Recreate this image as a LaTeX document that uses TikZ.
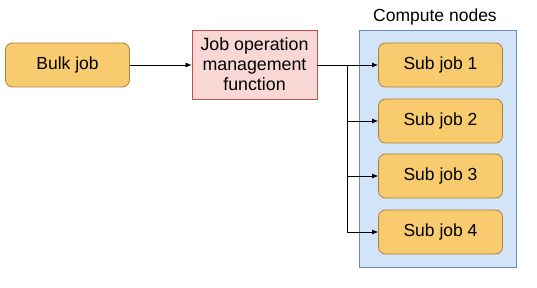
\documentclass[tikz,border=0pt]{standalone}
\usepackage{fontspec}
\setmainfont{Liberation Sans}
\usetikzlibrary{arrows.meta}
\definecolor{jobfill}{HTML}{F7CB6E}
\definecolor{jobdraw}{HTML}{B07F3A}
\definecolor{mgmtfill}{HTML}{F8D7D4}
\definecolor{mgmtdraw}{HTML}{C0504D}
\definecolor{nodefill}{HTML}{D2E4F8}
\definecolor{nodedraw}{HTML}{6C8EBF}
\begin{document}
\begin{tikzpicture}[x=1pt,y=-1pt,
  jobbox/.style={draw=jobdraw, fill=jobfill, rounded corners=7pt, line width=0.8pt,
    minimum width=124pt, minimum height=44pt, inner sep=0pt, font=\fontsize{17.5}{20}\selectfont},
  mgmtbox/.style={draw=mgmtdraw, fill=mgmtfill, line width=0.8pt,
    minimum width=125pt, minimum height=69pt, inner sep=0pt, align=center,
    font=\fontsize{17.8}{20}\selectfont},
  conn/.style={draw=black, line width=0.7pt, -{Latex[length=6pt,width=5pt]}}]
\useasboundingbox (0,0) rectangle (537,288);
\node[draw=nodedraw, fill=nodefill, line width=0.8pt, minimum width=157pt, minimum height=237pt, inner sep=0pt] (cont) at (437.5,148.5) {};
\node[font=\fontsize{17.5}{20}\selectfont] (lbl) at (435,17) {Compute nodes};
\node[jobbox] (bulk) at (67.5,65) {Bulk job};
\node[mgmtbox] (jom) at (254.5,64.5) {Job operation\\management\\function};
\node[jobbox] (s1) at (440.5,65) {Sub job 1};
\node[jobbox] (s2) at (440.5,121) {Sub job 2};
\node[jobbox] (s3) at (440.5,176) {Sub job 3};
\node[jobbox] (s4) at (440.5,232) {Sub job 4};
\coordinate (br) at (347,65);
\draw[conn] (bulk.east) -- (jom.west |- bulk.east);
\draw[conn, line width=0.9pt] (jom.east |- s1.west) -- (s1.west);
\draw[conn] (br) |- (s2.west);
\draw[conn] (br) |- (s3.west);
\draw[conn] (br) |- (s4.west);
\end{tikzpicture}
\end{document}
